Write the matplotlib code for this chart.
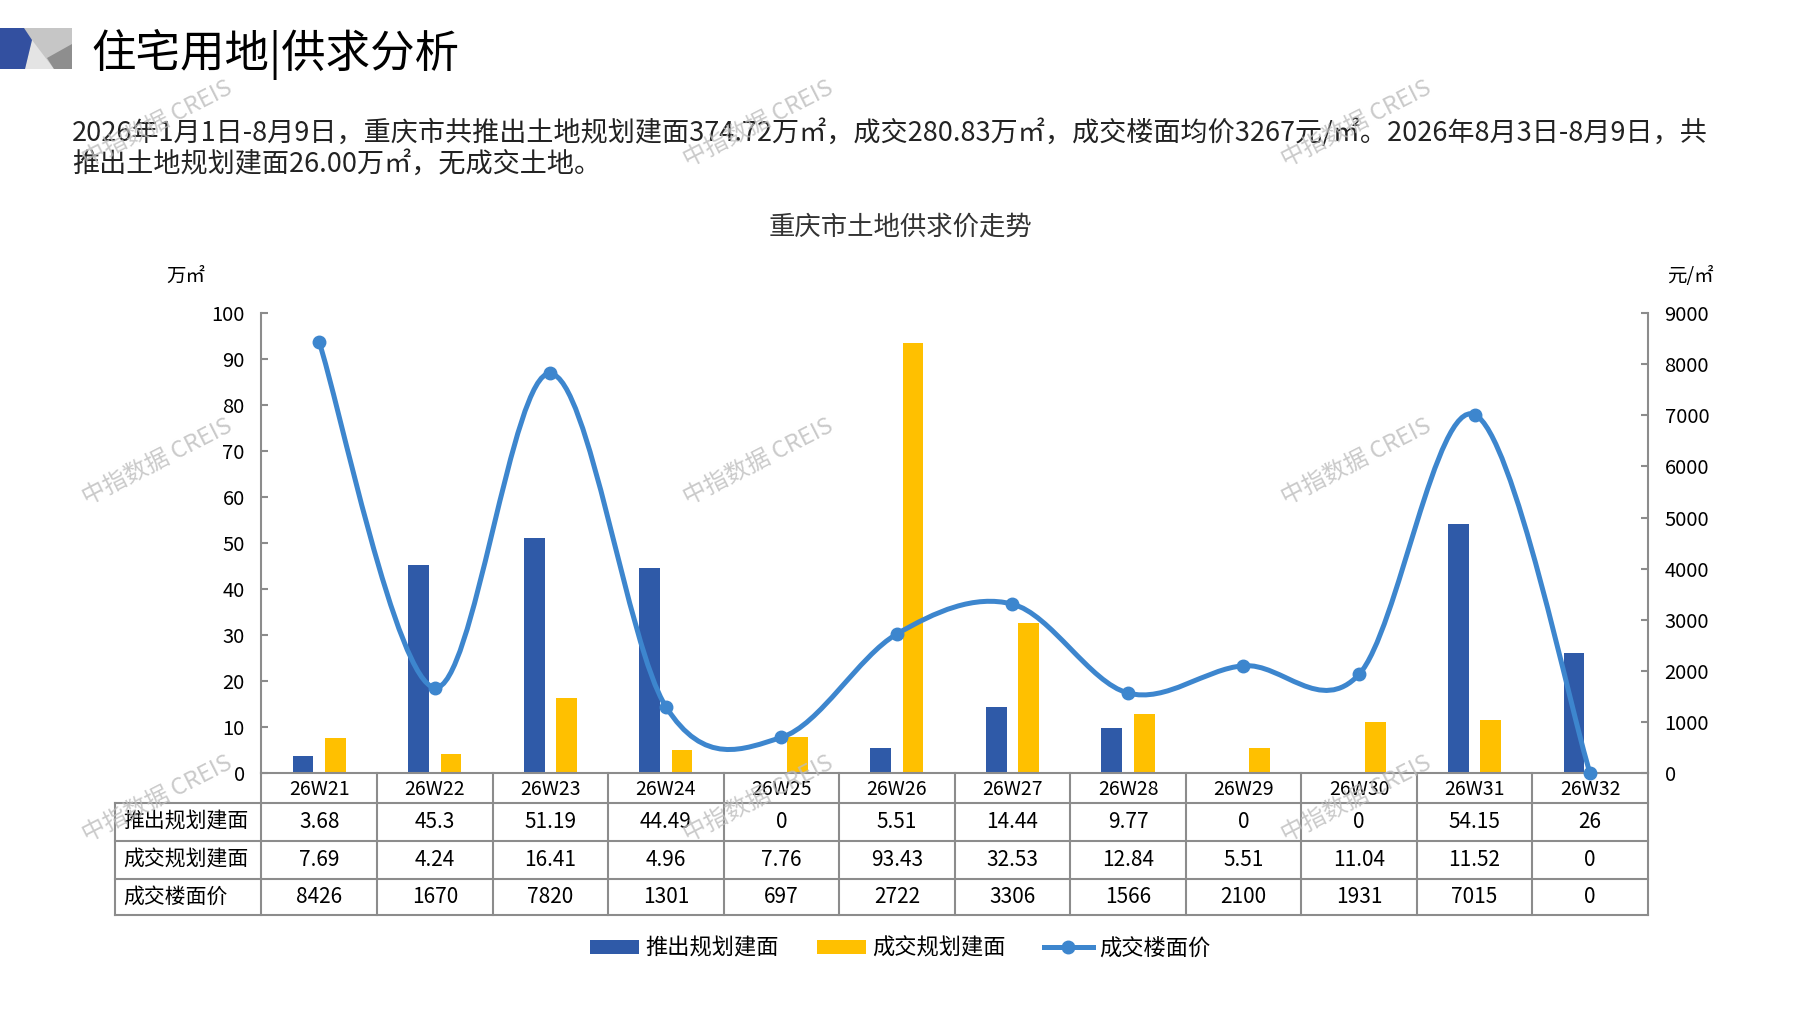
import matplotlib
matplotlib.use("Agg")
import matplotlib.pyplot as plt
from matplotlib.patches import Polygon, Patch, PathPatch
from matplotlib.lines import Line2D
from matplotlib.path import Path

plt.rcParams['font.family'] = ['Noto Sans CJK SC', 'DejaVu Sans']

# data
weeks = ['26W21', '26W22', '26W23', '26W24', '26W25', '26W26',
         '26W27', '26W28', '26W29', '26W30', '26W31', '26W32']
supply = [3.68, 45.3, 51.19, 44.49, 0, 5.51, 14.44, 9.77, 0, 0, 54.15, 26]
deal = [7.69, 4.24, 16.41, 4.96, 7.76, 93.43, 32.53, 12.84, 5.51, 11.04, 11.52, 0]
price = [8426, 1670, 7820, 1301, 697, 2722, 3306, 1566, 2100, 1931, 7015, 0]
supply_lbl = ['3.68', '45.3', '51.19', '44.49', '0', '5.51', '14.44', '9.77', '0', '0', '54.15', '26']
deal_lbl = ['7.69', '4.24', '16.41', '4.96', '7.76', '93.43', '32.53', '12.84', '5.51', '11.04', '11.52', '0']
price_lbl = [str(p) for p in price]
row_names = ['推出规划建面', '成交规划建面', '成交楼面价']

BLUE = '#2F5AA8'
YELLOW = '#FFC000'
LINE = '#3D86CE'
GRID = '#8C8C8C'

W, H = 1797, 1010
fig = plt.figure(figsize=(W / 100, H / 100), dpi=100)


def px(x, y):
    return (x / W, 1 - y / H)


# logo
fig.add_artist(Polygon([px(0, 28), px(72, 28), px(72, 69), px(0, 69)],
                       closed=True, fc='#C6C6C6', ec='none'))
fig.add_artist(Polygon([px(32, 40), px(54, 69), px(25, 69)],
                       closed=True, fc='#E4E4E4', ec='none'))
fig.add_artist(Polygon([px(47, 58), px(72, 44), px(72, 69), px(54, 69)],
                       closed=True, fc='#8E8E8E', ec='none'))
fig.add_artist(Polygon([px(0, 28), px(24, 28), px(32, 40), px(25, 69), px(0, 69)],
                       closed=True, fc='#3350A0', ec='none'))

fig.text(0.0511, 0.946, '住宅用地|供求分析', fontsize=32, va='center', ha='left')

fig.text(0.0402, 0.869,
         '2026年1月1日-8月9日，重庆市共推出土地规划建面374.72万㎡，成交280.83万㎡，'
         '成交楼面均价3267元/㎡。2026年8月3日-8月9日，共',
         fontsize=19.5, va='center', ha='left', color='#222222')
fig.text(0.0402, 0.837, '推出土地规划建面26.00万㎡，无成交土地。',
         fontsize=19.5, va='center', ha='left', color='#222222')

fig.text(0.501, 0.775, '重庆市土地供求价走势', fontsize=19, ha='center', va='center',
         color='#333333')

# axes
ax = fig.add_axes([0.1455, 0.2346, 0.7715, 0.4554])
ax2 = ax.twinx()
x = list(range(len(weeks)))
bw = 0.18
ax.bar([i - 0.14 for i in x], supply, width=bw, color=BLUE, zorder=2)
ax.bar([i + 0.14 for i in x], deal, width=bw, color=YELLOW, zorder=2)
ax.set_xlim(-0.5, len(weeks) - 0.5)
ax.set_ylim(0, 100)
ax.set_yticks(range(0, 101, 10))
ax2.set_ylim(0, 9000)
ax2.set_yticks(range(0, 9001, 1000))
ax.set_xticks([])

for a in (ax, ax2):
    for s in a.spines.values():
        s.set_visible(False)
    a.tick_params(axis='y', direction='in', length=5, width=1.5, color=GRID,
                  labelsize=14.5, pad=12)
ax.spines['left'].set_visible(True)
ax.spines['left'].set_color(GRID)
ax.spines['left'].set_linewidth(1.5)
ax2.spines['right'].set_visible(True)
ax2.spines['right'].set_color(GRID)
ax2.spines['right'].set_linewidth(1.5)

# smoothed price line (Catmull-Rom style bezier, like Excel's smooth line)
pts = list(zip(x, price))
verts = [pts[0]]
codes = [Path.MOVETO]
n = len(pts)
for i in range(n - 1):
    p0 = pts[i - 1] if i > 0 else pts[i]
    p1 = pts[i]
    p2 = pts[i + 1]
    p3 = pts[i + 2] if i + 2 < n else pts[i + 1]
    c1 = (p1[0] + (p2[0] - p0[0]) / 6, p1[1] + (p2[1] - p0[1]) / 6)
    c2 = (p2[0] - (p3[0] - p1[0]) / 6, p2[1] - (p3[1] - p1[1]) / 6)
    verts += [c1, c2, p2]
    codes += [Path.CURVE4] * 3
ax2.add_patch(PathPatch(Path(verts, codes), fc='none', ec=LINE, lw=3.6,
                        capstyle='round', joinstyle='round', clip_on=False, zorder=3))
ax2.plot(x, price, 'o', color=LINE, ms=9, clip_on=False, zorder=4)

fig.text(0.1034, 0.7265, '万㎡', fontsize=14, ha='center', va='center')
fig.text(0.9407, 0.7265, '元/㎡', fontsize=14, ha='center', va='center')

# data table under the plot
xt = ax.get_xaxis_transform()
rows_y = [0, -0.0648, -0.1471, -0.2294, -0.3092]
left_x = -0.1059
for k in range(len(weeks) + 1):
    ax.plot([k - 0.5, k - 0.5], [0, rows_y[-1]], color=GRID, lw=1.5,
            transform=xt, clip_on=False)
ax.plot([left_x, left_x], [rows_y[1], rows_y[-1]], color=GRID, lw=1.5,
        transform=ax.transAxes, clip_on=False)
ax.plot([0, 1], [0, 0], color=GRID, lw=1.5, transform=ax.transAxes, clip_on=False)
for yy in rows_y[1:]:
    ax.plot([left_x, 1], [yy, yy], color=GRID, lw=1.5,
            transform=ax.transAxes, clip_on=False)

for i, w in enumerate(weeks):
    ax.text(i, (rows_y[0] + rows_y[1]) / 2 - 0.004, w, transform=xt, ha='center',
            va='center', fontsize=14)
for r, vals in enumerate([supply_lbl, deal_lbl, price_lbl]):
    yc = (rows_y[r + 1] + rows_y[r + 2]) / 2
    ax.text(left_x + 0.006, yc, row_names[r], transform=ax.transAxes,
            ha='left', va='center', fontsize=15)
    for i, v in enumerate(vals):
        ax.text(i, yc, v, transform=xt, ha='center', va='center', fontsize=15)

# legend
handles = [Patch(fc=BLUE, ec='none'), Patch(fc=YELLOW, ec='none'),
           Line2D([], [], color=LINE, lw=3.6, marker='o', ms=9)]
fig.legend(handles, row_names, loc='center', bbox_to_anchor=(0.501, 0.061),
           ncol=3, frameon=False, fontsize=16, handlelength=2.2, handleheight=0.6,
           handletextpad=0.3, columnspacing=1.7)

# watermarks
for wx in (0.0874, 0.4218, 0.755):
    for wy in (0.8774, 0.5424, 0.2085):
        fig.text(wx, wy, '中指数据 CREIS', fontsize=17, color='#BDBDBD', alpha=0.8,
                 rotation=27, ha='center', va='center', rotation_mode='anchor',
                 zorder=10)

fig.savefig('out.png', dpi=100, facecolor='white')
